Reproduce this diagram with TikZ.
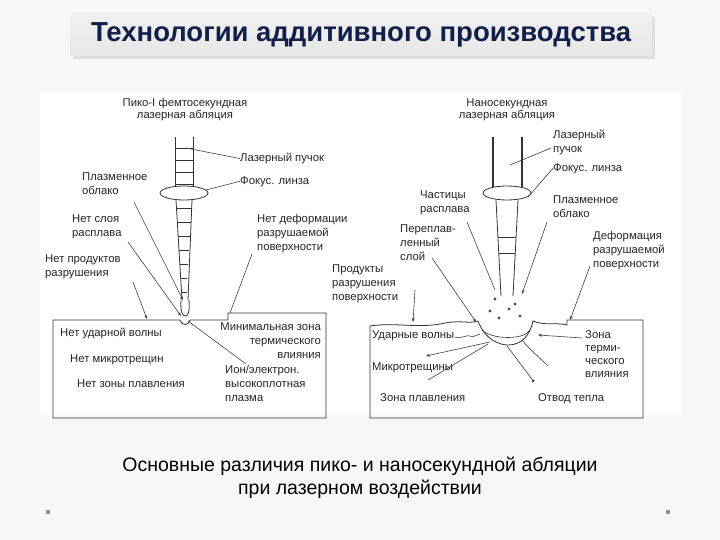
\documentclass[tikz,border=0pt]{standalone}
\usepackage{fontspec}
\setmainfont{Liberation Sans}
\usetikzlibrary{arrows.meta,shadows}
\definecolor{navy}{HTML}{10204A}
\tikzset{
 lbl/.style={font=\fontsize{11.3}{14}\selectfont,align=left,inner sep=0pt,anchor=north west,text=black!85},
 lead/.style={draw=black!75,line width=0.6pt},
 arr/.style={lead,-{Stealth[length=4pt]}},
 dotend/.style={lead,-{Circle[length=3pt]}},
 ln/.style={draw=black!80,line width=0.8pt},
}
\begin{document}
\begin{tikzpicture}[x=1pt,y=-1pt]
\useasboundingbox (0,0) rectangle (720,540);
\fill[black!3] (0,0) rectangle (720,540);
% title
\node[top color=black!6,bottom color=green!10!black!10,drop shadow={opacity=0.2},minimum width=582pt,minimum height=42pt,inner sep=0pt,font=\bfseries\fontsize{27.5}{30}\selectfont,text=navy] (title) at (361,35) {Технологии аддитивного производства};
% panel
\fill[white] (40,92) rectangle (682,415);
% ================= LEFT =================
\node[font=\fontsize{11.3}{12}\selectfont,align=center,inner sep=0pt,text=black!85] (lt) at (185,110) {Пико-I фемтосекундная\\лазерная абляция};
\draw[ln] (175,137) -- (175,187) (193,137) -- (193,187);
\foreach \y in {148,160,172,184} \draw[ln,line width=0.6pt] (175,\y) -- (193,\y);
\draw[ln] (184,193) ellipse (24 and 7);
\draw[ln] (176,200) -- (182,300) (192,200) -- (188,300);
\foreach \y/\a/\b in {208/176.5/191.5,222/177.4/190.6,236/178.2/189.8,250/179/189,264/179.9/188.1,278/180.6/187.4,292/181.5/186.5} \draw[ln,line width=0.6pt] (\a,\y) -- (\b,\y);
\draw[ln] (181,300) .. controls (180,312) and (183,316) .. (185,316) .. controls (188,316) and (190,312) .. (189,300);
\draw[ln] (53,320) -- (180,320) .. controls (181,326) and (189,326) .. (190,320) -- (228,320) -- (228,313) -- (326,313) -- (326,418) -- (53,418) -- cycle;
\node[lbl] (l1) at (240,153) {Лазерный пучок};
\node[lbl] (l2) at (240,176) {Фокус. линза};
\node[lbl] (l3) at (82,173) {Плазменное\\облако};
\node[lbl] (l4) at (72,215) {Нет слоя\\расплава};
\node[lbl] (l5) at (45,255) {Нет продуктов\\разрушения};
\node[lbl] (l6) at (257,214) {Нет деформации\\разрушаемой\\поверхности};
\node[lbl] (l7) at (60,328) {Нет ударной волны};
\node[lbl] (l8) at (70,355) {Нет микротрещин};
\node[lbl] (l9) at (77,380) {Нет зоны плавления};
\node[lbl,align=right,anchor=north east] (l10) at (321,323) {Минимальная зона\\термического\\влияния};
\node[lbl] (l11) at (225,365) {Ион/электрон.\\высокоплотная\\плазма};
\coordinate (p1) at (186,148); \coordinate (p2) at (206,190);
\coordinate (p3) at (183,300); \coordinate (p4) at (181,316); \coordinate (p5) at (147,319);
\coordinate (p6) at (230,313); \coordinate (p7) at (188,321);
\draw[lead] (p1) -- (l1.west);
\draw[lead] (p2) -- (l2.west);
\draw[arr] (134,202) -- (p3);
\draw[arr] (128,242) -- (p4);
\draw[arr] (133,282) -- (p5);
\draw[lead] (252,254) -- (p6);
\draw[lead] (p7) -- (246,364);
% ================= RIGHT =================
\node[font=\fontsize{11.3}{12}\selectfont,align=center,inner sep=0pt,text=black!85] (rt) at (507,110) {Наносекундная\\лазерная абляция};
\draw[ln,line width=1.2pt] (493,137) -- (493,187) (522,137) -- (522,187);
\draw[ln] (507,193) ellipse (24 and 7);
\draw[ln] (496,200) -- (501,296) (518,200) -- (513,296);
\draw[ln,line width=0.6pt] (498,237) -- (516,237) (499,253) -- (515,253);
\draw[ln] (370,418) -- (370,326) .. controls (395,322) and (420,329) .. (445,323) .. controls (460,320) and (470,324) .. (478,321)
 .. controls (485,340) and (500,345) .. (508,345) .. controls (522,345) and (530,335) .. (533,321)
 .. controls (545,326) and (555,322) .. (567,325) -- (567,320) -- (643,320) -- (643,418) -- cycle;
\draw[ln,line width=0.6pt] (482,330) .. controls (492,340) and (525,340) .. (530,330);
\foreach \p in {(495,299),(490,311),(499,318),(515,304),(520,316),(509,309)} \fill[black!70] \p circle (1.6);
\node[lbl] (r1) at (553,130) {Лазерный\\пучок};
\node[lbl] (r2) at (553,163) {Фокус. линза};
\node[lbl] (r3) at (420,191) {Частицы\\расплава};
\node[lbl] (r4) at (553,196) {Плазменное\\облако};
\node[lbl] (r5) at (400,225) {Переплав-\\ленный\\слой};
\node[lbl] (r6) at (332,265) {Продукты\\разрушения\\поверхности};
\node[lbl] (r7) at (593,231) {Деформация\\разрушаемой\\поверхности};
\node[lbl] (r8) at (372,331) {Ударные волны};
\node[lbl] (r9) at (372,363) {Микротрещины};
\node[lbl] (r10) at (380,393) {Зона плавления};
\node[lbl] (r11) at (538,393) {Отвод тепла};
\node[lbl,font=\fontsize{11.3}{13}\selectfont] (r12) at (585,330) {Зона\\терми-\\ческого\\влияния};
\coordinate (q1) at (510,165); \coordinate (q2) at (528,197);
\coordinate (q3) at (495,290); \coordinate (q4) at (522,294);
\coordinate (q5) at (476,322); \coordinate (q6) at (413,322);
\coordinate (q7) at (570,320);
\draw[lead] (q1) -- (551,148);
\draw[lead] (q2) -- (r2.west);
\draw[lead] (467,222) -- (q3);
\draw[arr] (547,222) -- (q4);
\draw[arr] (432,258) -- (q5);
\draw[arr] (415,290) -- (q6);
\draw[arr] (590,266) -- (q7);
\draw[lead] (455,337) .. controls (462,340) and (466,333) .. (472,337) -- (480,334);
\draw[arr] (490,342) -- (426,356);
\draw[lead] (488,344) -- (428,380);
\draw[dotend] (507,346) -- (534,382);
\draw[lead] (522,340) .. controls (530,350) and (540,358) .. (548,366);
\draw[arr] (582,338) -- (538,335);
\node[font=\fontsize{19.5}{23}\selectfont,align=center,inner sep=0pt] (bt) at (360,478) {Основные различия пико- и наносекундной абляции\\при лазерном воздействии};
\fill[black!45] (48,512) circle (2.2) (668,512) circle (2.2);
\end{tikzpicture}
\end{document}
